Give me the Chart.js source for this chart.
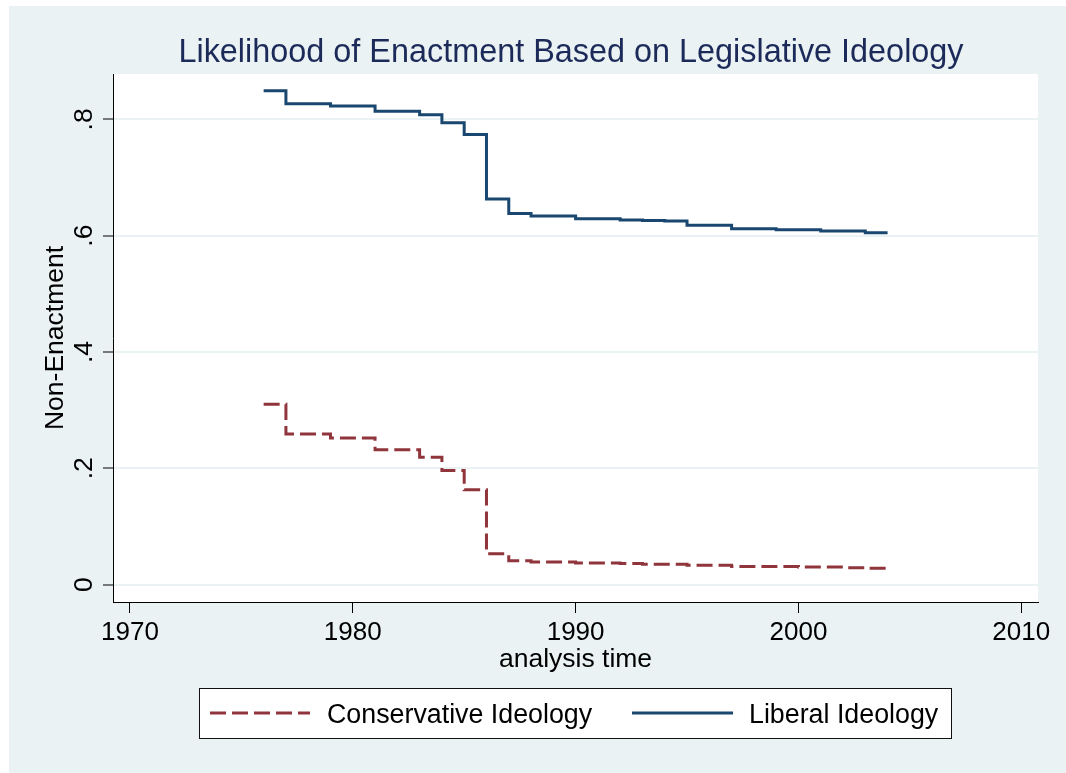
<!DOCTYPE html>
<html><head><meta charset="utf-8">
<script src="https://cdn.jsdelivr.net/npm/chart.js@4.4.0/dist/chart.umd.min.js"></script>
<style>html,body{margin:0;padding:0;background:#fff;} canvas{display:block;}</style>
</head><body>
<canvas id="c" width="1066" height="773"></canvas>
<script>
const titleText = 'Likelihood of Enactment Based on Legislative Ideology';
const years = [1976,1977,1978,1979,1980,1981,1982,1983,1984,1985,1986,1987,1988,1989,1990,1991,1992,1993,1994,1995,1996,1997,1998,1999,2000,2001,2002,2003,2004];
const liberal = [0.849,0.827,0.827,0.823,0.823,0.814,0.814,0.808,0.794,0.774,0.663,0.638,0.634,0.634,0.629,0.629,0.627,0.626,0.625,0.618,0.618,0.612,0.612,0.610,0.610,0.608,0.608,0.605,0.605];
const conservative = [0.310,0.259,0.259,0.252,0.252,0.232,0.232,0.219,0.196,0.163,0.053,0.041,0.039,0.039,0.037,0.037,0.036,0.035,0.035,0.033,0.033,0.031,0.031,0.031,0.030,0.030,0.029,0.028,0.028];
const xTicks = [1970,1980,1990,2000,2010];
const yTicks = [0,0.2,0.4,0.6,0.8];
const yTickLabels = ['0','.2','.4','.6','.8'];
const seriesNames = ['Conservative Ideology','Liberal Ideology'];
const xTitle = 'analysis time';
const yTitle = 'Non-Enactment';

const FONT = '"Liberation Sans", Arial, Helvetica, sans-serif';
const BG = '#EAF2F3';
const BLUE = '#1A476F';
const RED = '#90353B';

const decor = {
  id: 'decor',
  beforeDraw(chart) {
    const {ctx, chartArea: a} = chart;
    ctx.save();
    ctx.fillStyle = '#fff'; ctx.fillRect(0,0,chart.width,chart.height);
    ctx.fillStyle = BG; ctx.fillRect(9,6,chart.width-9,chart.height-6);
    ctx.fillStyle = '#fff'; ctx.fillRect(a.left, a.top, a.right-a.left, a.bottom-a.top);
    ctx.restore();
  },
  afterDraw(chart) {
    const {ctx, chartArea: a, scales} = chart;
    const y = scales.y;
    ctx.save();
    ctx.fillStyle = '#000';
    ctx.font = '26.5px ' + FONT;
    ctx.textAlign = 'center'; ctx.textBaseline = 'alphabetic';
    yTicks.forEach((v,i)=>{
      const py = y.getPixelForValue(v);
      ctx.save(); ctx.translate(92, py); ctx.rotate(-Math.PI/2); ctx.fillText(yTickLabels[i],0,0); ctx.restore();
    });
    ctx.save(); ctx.translate(63, (a.top+a.bottom)/2); ctx.rotate(-Math.PI/2); ctx.fillText(yTitle,0,0); ctx.restore();
    ctx.fillText(xTitle, (a.left+a.right)/2, 667);
    ctx.fillStyle = '#1C2A59'; ctx.font = '32.4px ' + FONT;
    ctx.fillText(titleText, 571, 62);
    // legend
    ctx.fillStyle = '#fff'; ctx.fillRect(199.5,688.5,752,50);
    ctx.strokeStyle = '#111'; ctx.lineWidth = 1; ctx.strokeRect(199.5,688.5,752,50);
    const items = [
      {ds: chart.data.datasets[0], x0: 210, x1: 310, tx: 327},
      {ds: chart.data.datasets[1], x0: 632, x1: 733, tx: 749}
    ];
    items.forEach(it=>{
      ctx.save();
      ctx.strokeStyle = it.ds.borderColor; ctx.lineWidth = 3;
      ctx.setLineDash(it.ds.borderDash || []);
      ctx.beginPath(); ctx.moveTo(it.x0, 713); ctx.lineTo(it.x1, 713); ctx.stroke();
      ctx.restore();
      ctx.fillStyle = '#000'; ctx.font = '26.8px ' + FONT; ctx.textAlign = 'left';
      ctx.fillText(it.ds.label, it.tx, 723);
    });
    ctx.restore();
  }
};

new Chart(document.getElementById('c'), {
  type: 'line',
  data: { datasets: [
    { label: seriesNames[0], data: years.map((x,i)=>({x, y: conservative[i]})), borderColor: RED, backgroundColor: RED, borderWidth: 3, borderDash: [16,6], stepped: true, pointRadius: 0, fill: false },
    { label: seriesNames[1], data: years.map((x,i)=>({x, y: liberal[i]})), borderColor: BLUE, backgroundColor: BLUE, borderWidth: 3, stepped: true, pointRadius: 0, fill: false }
  ]},
  options: {
    responsive: false, animation: false, devicePixelRatio: 1,
    layout: { padding: { left: 13, top: 74, right: 28, bottom: 0 } },
    plugins: { legend: { display: false }, title: { display: false }, tooltip: { enabled: false } },
    scales: {
      x: { type: 'linear', min: 1969.24, max: 2010.75,
        afterBuildTicks(s){ s.ticks = xTicks.map(v=>({value:v})); },
        afterFit(s){ s.height = 171; },
        grid: { drawOnChartArea: false, drawTicks: true, tickLength: 11, tickColor: '#000', tickWidth: 1 },
        border: { display: true, color: '#000', width: 1 },
        ticks: { font: { family: FONT, size: 26 }, color: '#000', padding: 4, maxRotation: 0, minRotation: 0, autoSkip: false, callback: v => String(v) } },
      y: { type: 'linear', min: -0.03, max: 0.878,
        afterBuildTicks(s){ s.ticks = yTicks.map(v=>({value:v})); },
        afterFit(s){ s.width = 100; },
        grid: { color: BG, lineWidth: 2, drawTicks: true, tickLength: 10, tickColor: '#000', tickWidth: 1 },
        border: { display: true, color: '#000', width: 1 },
        ticks: { display: false } }
    }
  },
  plugins: [decor]
});
</script>
</body></html>
